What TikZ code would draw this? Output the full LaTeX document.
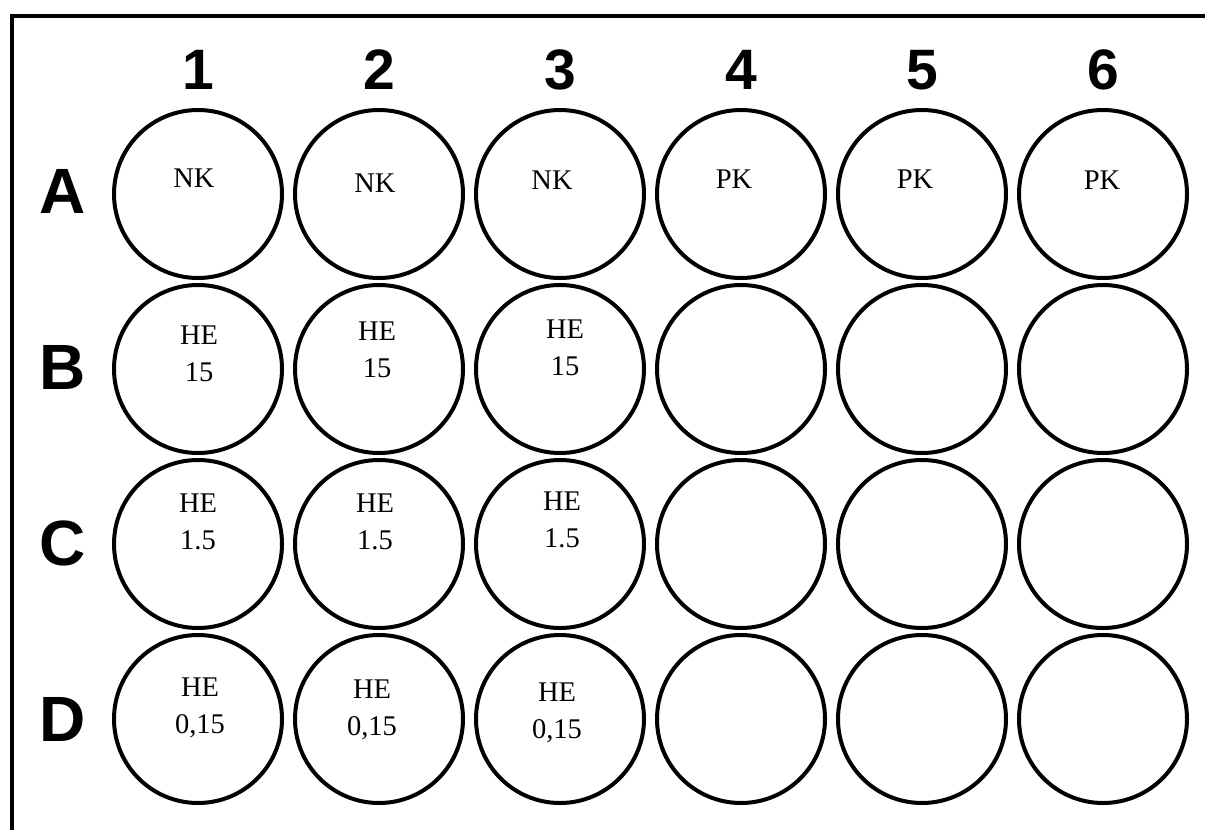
\documentclass[tikz,border=0pt]{standalone}
\usepackage{fontspec}
\setmainfont{Liberation Serif}
\newfontfamily\platefont{Liberation Sans}
\usetikzlibrary{calc}

\begin{document}
\begin{tikzpicture}[
    x=1pt, y=-1pt,
    frame/.style={line width=4pt},
    well/.style={draw, circle, line width=4pt, minimum size=168pt, inner sep=0pt},
    collab/.style={font=\platefont\bfseries\fontsize{57}{60}\selectfont, inner sep=0pt, anchor=base},
    rowlab/.style={font=\platefont\bfseries\fontsize{64}{70}\selectfont, inner sep=0pt, anchor=base},
    wtext/.style={font=\fontsize{28.5}{37}\selectfont, align=center, inner sep=0pt}
]

\useasboundingbox (0,0) rectangle (1205,830);
\clip (0,0) rectangle (1205,830);

% =========================================================
% 1) PLATE FRAME (cut off at right and bottom)
% =========================================================
\draw[frame] (11.5,850) -- (11.5,15.5) -- (1225,15.5);

% =========================================================
% 2) COLUMN AND ROW LABELS
% =========================================================
\foreach \c in {1,...,6}
  \node[collab] (col\c) at ({198+181*(\c-1)},89) {\c};

\foreach \r [count=\i from 0] in {A,B,C,D}
  \node[rowlab] (row\r) at (63,{213+176*\i}) {\r};

% =========================================================
% 3) WELLS
% =========================================================
\foreach \r [count=\i from 0] in {A,B,C,D}
  \foreach \c in {1,...,6}
    \node[well] (w\r\c) at ({198+181*(\c-1)},{194+175*\i}) {};

% Well contents, slightly off-centre as in the plate sketch.
\foreach \w/\dx/\dy/\txt in {
    A1/-4/-16/NK, A2/-4/-11/NK, A3/-8/-14/NK,
    A4/-7/-15/PK, A5/-7/-15/PK, A6/-1/-14/PK,
    B1/1/-15/{HE\\15}, B2/-2/-19/{HE\\15}, B3/5/-21/{HE\\15},
    C1/0/-22/{HE\\1.5}, C2/-4/-22.5/{HE\\1.5}, C3/2/-24.5/{HE\\1.5},
    D1/2/-11.5/{HE\\0,15}, D2/-7/-9/{HE\\0,15}, D3/-3/-6.5/{HE\\0,15}}
  \node[wtext] (t\w) at ($(w\w.center)+(\dx,\dy)$) {\txt};

\end{tikzpicture}
\end{document}
